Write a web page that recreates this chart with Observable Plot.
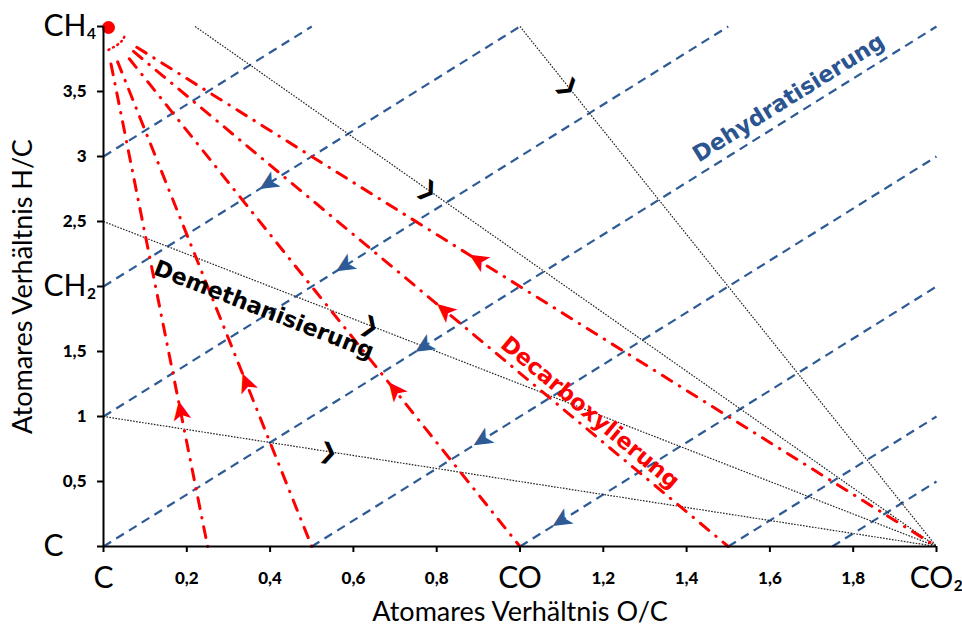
<!DOCTYPE html>
<html><head><meta charset="utf-8">
<script src="https://cdn.jsdelivr.net/npm/d3@7"></script>
<script src="https://cdn.jsdelivr.net/npm/@observablehq/plot@0.6"></script>
<style>body{margin:0;background:#fff}</style>
</head><body><div id="chart"></div>
<script>
// ---- tick values and labels ----
const xTickValues = [0, 0.2, 0.4, 0.6, 0.8, 1, 1.2, 1.4, 1.6, 1.8, 2];
const xTickLabels = ["C", "0,2", "0,4", "0,6", "0,8", "CO", "1,2", "1,4", "1,6", "1,8", "CO₂"];
const yTickValues = [0, 0.5, 1, 1.5, 2, 2.5, 3, 3.5, 4];
const yTickLabels = ["C", "0,5", "1", "1,5", "CH₂", "2,5", "3", "3,5", "CH₄"];
const xBigTicks = [0, 1, 2];
const yBigTicks = [0, 2, 4];

// ---- Dehydratisierung (blue dashed) lines ----
const blueStartOC = [0, 0, 0, 0, 0.5, 1, 1.5, 1.75];
const blueStartHC = [3, 2, 1, 0, 0, 0, 0, 0];
const blueEndOC = [0.5, 1, 1.5, 2, 2, 2, 2, 2];
const blueEndHC = [4, 4, 4, 4, 3, 2, 1, 0.5];
const blueArrowLine = [1, 2, 3, 4, 5];
const blueArrowOC = [0.396, 0.58, 0.77, 0.91, 1.10];

// ---- Decarboxylierung (red dash-dot) lines from CH4 ----
const redOriginOC = 0, redOriginHC = 4;
const redEndOC = [0.25, 0.5, 1, 1.5, 2];
const redStartOC = [0.018, 0.034, 0.062, 0.072, 0.08];
const redArrowOC = [0.185, 0.343, 0.70, 0.82, 0.90];
const redArcOC = [0.012, 0.038, 0.05];
const redArcHC = [3.82, 3.87, 3.92];

// ---- Demethanisierung (black dotted) lines to CO2 ----
const blackEndOC = 2, blackEndHC = 0;
const blackStartOC = [0, 0, 0.22, 1];
const blackStartHC = [1, 2.5, 4, 4];
const blackArrowOC = [0.54, 0.64, 0.78, 1.116];

// ---- process labels ----
const labelText = ["Dehydratisierung", "Demethanisierung", "Decarboxylierung"];
const labelOC = [1.645, 0.385, 1.168];
const labelHC = [3.45, 1.82, 1.03];
const labelColor = ["#2b5591", "#000000", "#ff0000"];

// ---- layout ----
const W = 962, H = 628, mL = 103, mR = 26, mT = 26, mB = 82;
const kx = (W - mL - mR) / 2, ky = (H - mT - mB) / 4;
const angle = (dx, dy) => Math.atan2(-dy * ky, dx * kx) * 180 / Math.PI;

const blueColor = "#2e5b96";
const blueIdx = d3.range(blueStartOC.length);
const redIdx = d3.range(redEndOC.length);
const blackIdx = d3.range(blackStartOC.length);

const redHC = (i, x) => redOriginHC + (x - redOriginOC) * (0 - redOriginHC) / (redEndOC[i] - redOriginOC);
const blackHC = (i, x) => blackStartHC[i] + (x - blackStartOC[i]) * (blackEndHC - blackStartHC[i]) / (blackEndOC - blackStartOC[i]);
const blueHC = (i, x) => blueStartHC[i] + (x - blueStartOC[i]) * (blueEndHC[i] - blueStartHC[i]) / (blueEndOC[i] - blueStartOC[i]);

const blueArrows = blueArrowLine.map((li, k) => ({x: blueArrowOC[k], y: blueHC(li, blueArrowOC[k]),
  r: angle(blueStartOC[li] - blueEndOC[li], blueStartHC[li] - blueEndHC[li])}));
const redArrows = redIdx.map(i => ({x: redArrowOC[i], y: redHC(i, redArrowOC[i]),
  r: angle(redOriginOC - redEndOC[i], redOriginHC - 0)}));
const blackArrows = blackIdx.map(i => ({x: blackArrowOC[i], y: blackHC(i, blackArrowOC[i]),
  r: angle(blackEndOC - blackStartOC[i], blackEndHC - blackStartHC[i])}));

const labels = labelText.map((t, i) => ({t, x: labelOC[i], y: labelHC[i], c: labelColor[i]}));
const labelRot = [angle(1, 2), angle(2, -2.5), angle(1.5, -4)];

const xSmall = xTickValues.filter(v => !xBigTicks.includes(v));
const ySmall = yTickValues.filter(v => !yBigTicks.includes(v));
const xLab = d => xTickLabels[xTickValues.indexOf(d)];
const yLab = d => yTickLabels[yTickValues.indexOf(d)];

const chart = Plot.plot({
  width: W, height: H,
  marginLeft: mL, marginRight: mR, marginTop: mT, marginBottom: mB,
  x: {domain: [0, 2], axis: null},
  y: {domain: [0, 4], axis: null},
  style: {fontFamily: "Lato, 'DejaVu Sans', sans-serif", background: "#fff", overflow: "visible"},
  marks: [
    // Dehydratisierung
    Plot.link(blueIdx, {x1: i => blueStartOC[i], y1: i => blueStartHC[i], x2: i => blueEndOC[i], y2: i => blueEndHC[i],
      stroke: blueColor, strokeWidth: 2.2, strokeDasharray: "9,6"}),
    // Demethanisierung
    Plot.link(blackIdx, {x1: i => blackStartOC[i], y1: i => blackStartHC[i], x2: blackEndOC, y2: blackEndHC,
      stroke: "#222", strokeWidth: 1.2, strokeDasharray: "1.6,1.4"}),
    // Decarboxylierung
    Plot.link(redIdx, {x1: i => redStartOC[i], y1: i => redHC(i, redStartOC[i]), x2: i => redEndOC[i], y2: 0,
      stroke: "#ff0000", strokeWidth: 3, strokeDasharray: "11,9,0.5,9", strokeLinecap: "round"}),
    Plot.line(redArcOC.map((x, i) => ({x, y: redArcHC[i]})), {x: "x", y: "y", curve: "natural",
      stroke: "#ff0000", strokeWidth: 2.5, strokeDasharray: "1,4", strokeLinecap: "round"}),
    Plot.dot([{x: redOriginOC, y: redOriginHC}], {x: "x", y: "y", r: 6.5, fill: "#ff0000", dx: 5, dy: 1}),
    // axes
    Plot.ruleX([0], {y1: 0, y2: 4, stroke: "#000", strokeWidth: 2}),
    Plot.ruleY([0], {x1: 0, x2: 2, stroke: "#000", strokeWidth: 2}),
    Plot.axisX({ticks: xTickValues, tickSize: 6, tickFormat: () => "", stroke: "#000", strokeWidth: 2, label: null}),
    Plot.axisY({ticks: yTickValues, tickSize: 6, tickFormat: () => "", stroke: "#000", strokeWidth: 2, label: null}),
    Plot.text(xSmall, {x: d => d, y: 0, text: xLab, dy: 32, fontSize: 17, fontWeight: 900, fill: "#000"}),
    Plot.text(ySmall, {x: 0, y: d => d, text: yLab, dx: -17, textAnchor: "end", fontSize: 17, fontWeight: 900, fill: "#000"}),
    Plot.text(xBigTicks, {x: d => d, y: 0, text: xLab, dy: 32, fontSize: 30, fill: "#000"}),
    Plot.text(yBigTicks, {x: 0, y: d => d, text: yLab, dx: -60, textAnchor: "start", fontSize: 30, fill: "#000"}),
    Plot.text(["Atomares Verhältnis O/C"], {frameAnchor: "bottom", dy: 66, lineAnchor: "middle", fontSize: 27, fill: "#000"}),
    Plot.text(["Atomares Verhältnis H/C"], {frameAnchor: "left", dx: -80, rotate: -90, textAnchor: "middle", lineAnchor: "middle", fontSize: 27, fill: "#000"}),
    // arrows
    Plot.text(blueArrows, {x: "x", y: "y", rotate: "r", text: () => "➤", fill: blueColor, fontSize: 28, fontFamily: "DejaVu Sans"}),
    Plot.text(redArrows, {x: "x", y: "y", rotate: "r", text: () => "➤", fill: "#ff0000", fontSize: 28, fontFamily: "DejaVu Sans"}),
    Plot.text(blackArrows, {x: "x", y: "y", rotate: "r", text: () => "❯", fill: "#000", fontSize: 22, fontWeight: "bold", fontFamily: "DejaVu Sans"}),
    // process labels
    ...labels.map((l, i) => Plot.text([l], {x: "x", y: "y", text: "t", fill: "c", rotate: labelRot[i],
      fontSize: 22.5, fontWeight: "bold", fontFamily: "DejaVu Sans"}))
  ]
});
document.getElementById("chart").append(chart);
</script>
</body></html>
